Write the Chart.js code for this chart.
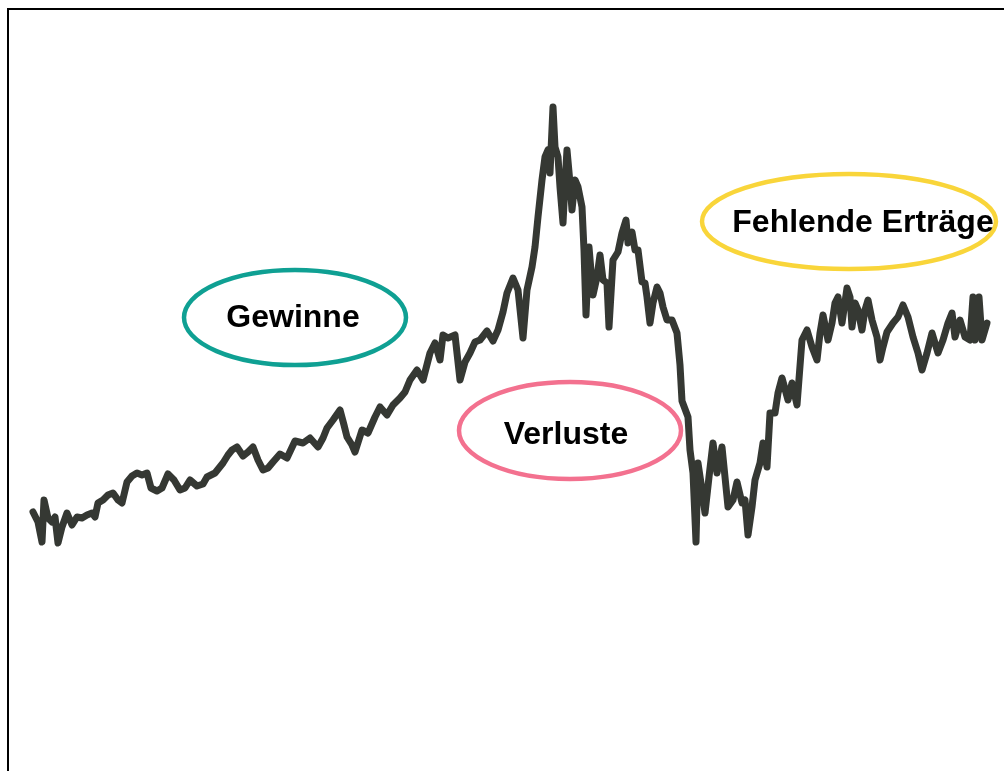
<!DOCTYPE html>
<html>
<head>
<meta charset="utf-8">
<script src="https://cdn.jsdelivr.net/npm/chart.js@4"></script>
<style>
  html, body { margin: 0; padding: 0; background: #fff; }
  #wrap { width: 1004px; height: 771px; }
</style>
</head>
<body>
<div id="wrap"><canvas id="kursChart" width="1004" height="771"></canvas></div>
<script>
// trading day index and index level
const tage = [0, 5, 9, 11, 15, 19, 22, 25, 29, 34, 39, 44, 49, 54, 59, 62, 65, 70, 75, 80,
  85, 89, 94, 99, 104, 109, 114, 118, 124, 129, 135, 141, 147, 152, 157, 164, 170, 174, 182, 190,
  195, 199, 204, 210, 215, 220, 225, 230, 235, 240, 247, 254, 262, 270, 277, 285, 290, 294, 300, 307,
  311, 314, 319, 322, 329, 335, 342, 347, 354, 360, 367, 372, 377, 384, 390, 397, 402, 407, 410, 415,
  422, 427, 432, 437, 442, 447, 454, 460, 465, 470, 474, 480, 485, 490, 494, 499, 502, 505, 509, 512,
  515, 517, 520, 522, 525, 527, 530, 532, 534, 537, 539, 542, 545, 549, 551, 553, 556, 560, 564, 567,
  570, 574, 576, 580, 585, 589, 593, 595, 599, 602, 605, 609, 612, 614, 617, 620, 624, 627, 630, 634,
  639, 644, 647, 649, 655, 657, 660, 663, 665, 669, 672, 676, 680, 684, 689, 692, 695, 700, 704, 709,
  712, 715, 719, 722, 727, 730, 734, 737, 742, 745, 749, 755, 759, 764, 769, 774, 779, 784, 787, 790,
  795, 799, 802, 805, 809, 814, 817, 819, 822, 825, 829, 832, 835, 839, 844, 847, 850, 854, 860, 865,
  870, 875, 880, 885, 889, 894, 899, 902, 905, 910, 915, 919, 922, 927, 932, 937, 940, 942, 946, 949, 954];

const kurs = [2590, 2490, 2290, 2710, 2530, 2490, 2540, 2280, 2440, 2580, 2460, 2540, 2530, 2560, 2580, 2540, 2680, 2710, 2760, 2780,
  2710, 2680, 2890, 2950, 2980, 2960, 2980, 2830, 2800, 2830, 2970, 2910, 2810, 2830, 2910, 2850, 2870, 2940, 2980, 3080,
  3160, 3210, 3240, 3150, 3190, 3240, 3110, 3010, 3030, 3090, 3170, 3130, 3300, 3280, 3330, 3240, 3330, 3430, 3510, 3610,
  3460, 3340, 3260, 3190, 3410, 3380, 3540, 3640, 3560, 3660, 3730, 3790, 3910, 4010, 3910, 4180, 4280, 4110, 4360, 4330,
  4360, 3910, 4090, 4180, 4290, 4310, 4400, 4300, 4410, 4590, 4780, 4930, 4810, 4330, 4810, 5040, 5240, 5540, 5910, 6140,
  6210, 5980, 6640, 6240, 6140, 5840, 5480, 5880, 6210, 5880, 5610, 5910, 5840, 5640, 5210, 4560, 5240, 4760, 4940, 5160,
  4910, 4880, 4440, 5110, 5190, 5380, 5510, 5280, 5390, 5210, 5210, 4890, 4880, 4740, 4480, 4680, 4840, 4780, 4640, 4510,
  4510, 4380, 4060, 3700, 3540, 3210, 2980, 2290, 3080, 2810, 2580, 2940, 3280, 2980, 3240, 2940, 2640, 2710, 2890, 2680,
  2710, 2360, 2640, 2910, 3080, 3280, 3040, 3580, 3580, 3780, 3930, 3710, 3880, 3660, 4310, 4410, 4240, 4110, 4380, 4560,
  4310, 4480, 4680, 4740, 4480, 4830, 4740, 4440, 4680, 4610, 4410, 4610, 4710, 4510, 4340, 4110, 4240, 4390, 4480, 4540,
  4660, 4540, 4340, 4180, 4010, 4180, 4380, 4280, 4180, 4310, 4480, 4580, 4340, 4510, 4340, 4310, 4740, 4310, 4740, 4310, 4480];

// annotation bubbles: label, anchor in data units
const labels = ['Gewinne', 'Verluste', 'Fehlende Erträge'];
const labelTag = [262, 537, 816];
const labelKurs = [4535, 3405, 5495];

const bubbles = [
  { color: '#0fa093', rx: 111, ry: 47.5, tx: -2, ty: 1 },
  { color: '#f3718f', rx: 111, ry: 48.5, tx: -4, ty: 5 },
  { color: '#f9d53a', rx: 147, ry: 47.5, tx: 14, ty: 2 }
];

const bubblePlugin = {
  id: 'bubbles',
  beforeDatasetsDraw(chart) {
    const { ctx, scales } = chart;
    ctx.save();
    labels.forEach((txt, i) => {
      const b = bubbles[i];
      const cx = scales.x.getPixelForValue(labelTag[i]);
      const cy = scales.y.getPixelForValue(labelKurs[i]);
      ctx.beginPath();
      ctx.ellipse(cx, cy, b.rx, b.ry, 0, 0, Math.PI * 2);
      ctx.lineWidth = 4.5;
      ctx.strokeStyle = b.color;
      ctx.stroke();
      ctx.fillStyle = '#000';
      ctx.font = 'bold 32px "Liberation Sans", Arial, sans-serif';
      ctx.textAlign = 'center';
      ctx.textBaseline = 'middle';
      ctx.fillText(txt, cx + b.tx, cy + b.ty);
    });
    ctx.restore();
  }
};

const ctx = document.getElementById('kursChart').getContext('2d');
const kursChart = new Chart(ctx, {
  type: 'line',
  data: {
    datasets: [{
      label: 'Kurs',
      data: tage.map((t, i) => ({ x: t, y: kurs[i] })),
      borderColor: '#353833',
      borderWidth: 7,
      borderJoinStyle: 'round',
      borderCapStyle: 'round',
      pointRadius: 0,
      tension: 0,
      fill: false
    }]
  },
  options: {
    responsive: false,
    maintainAspectRatio: false,
    animation: false,
    layout: { padding: { left: 8, top: 9, right: 0, bottom: 0 } },
    plugins: {
      legend: { display: false },
      tooltip: { enabled: false }
    },
    scales: {
      x: {
        type: 'linear',
        position: 'top',
        min: -25,
        max: 971,
        ticks: { display: false },
        grid: { display: false },
        border: { display: true, color: '#000', width: 2 },
        afterFit: (s) => { s.height = 0; }
      },
      y: {
        min: 0,
        max: 7620,
        ticks: { display: false },
        grid: { display: false },
        border: { display: true, color: '#000', width: 2 },
        afterFit: (s) => { s.width = 0; }
      }
    }
  },
  plugins: [bubblePlugin]
});
</script>
</body>
</html>
